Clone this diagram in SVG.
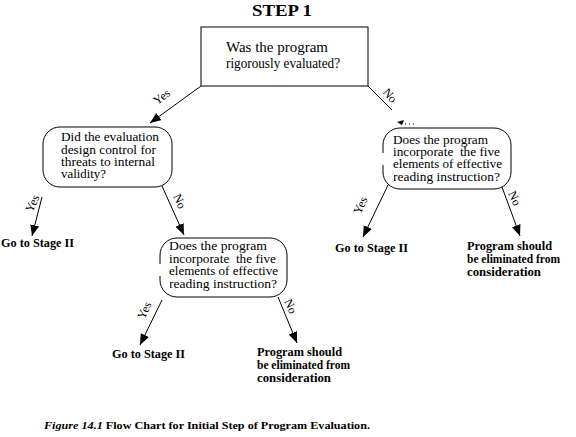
<svg xmlns="http://www.w3.org/2000/svg" width="576" height="437" viewBox="0 0 576 437">
<style>
.box{fill:#fff;stroke:#000;stroke-width:1}
.q{font-family:"Liberation Serif","Times New Roman",serif;font-size:13.5px;fill:#000}
.lbl{font-family:"Liberation Serif","Times New Roman",serif;font-size:12px;fill:#000}
.out{font-family:"Liberation Serif","Times New Roman",serif;font-size:12px;font-weight:bold;fill:#000}
.con{stroke:#000;stroke-width:1;fill:none}
</style>
<defs>
<marker id="ah" markerUnits="userSpaceOnUse" markerWidth="12" markerHeight="10" refX="11" refY="4.5" orient="auto">
<path d="M0,0 L11,4.5 L0,9 z" fill="#000"/>
</marker>
</defs>
<rect width="576" height="437" fill="#fff"/>
<text x="282" y="16" text-anchor="middle" font-family="'Liberation Serif','Times New Roman',serif" font-size="17" font-weight="bold" textLength="60" lengthAdjust="spacingAndGlyphs">STEP 1</text>

<g id="connectors">
<line class="con" x1="201" y1="86" x2="150" y2="123" marker-end="url(#ah)"/>
<line class="con" x1="368" y1="86" x2="392" y2="110"/>
<path d="M397,122 L404,120 L402,125 z" fill="#000"/>
<line x1="405" y1="124" x2="417" y2="124" stroke="#000" stroke-width="1" stroke-dasharray="1,3"/>
<line class="con" x1="42" y1="197" x2="32" y2="236" marker-end="url(#ah)"/>
<line class="con" x1="162" y1="186" x2="184" y2="235" marker-end="url(#ah)"/>
<line class="con" x1="162" y1="300" x2="140" y2="345" marker-end="url(#ah)"/>
<line class="con" x1="278" y1="297" x2="297" y2="343" marker-end="url(#ah)"/>
<line class="con" x1="388" y1="185" x2="363" y2="237" marker-end="url(#ah)"/>
<line class="con" x1="502" y1="187" x2="520" y2="236" marker-end="url(#ah)"/>
<text class="lbl" transform="translate(164,100) rotate(-36)" text-anchor="middle">Yes</text>
<text class="lbl" transform="translate(387,98) rotate(50)" text-anchor="middle">No</text>
<text class="lbl" transform="translate(36,205) rotate(-65)" text-anchor="middle">Yes</text>
<text class="lbl" transform="translate(176,203) rotate(65)" text-anchor="middle">No</text>
<text class="lbl" transform="translate(148,312) rotate(-65)" text-anchor="middle">Yes</text>
<text class="lbl" transform="translate(287,308) rotate(65)" text-anchor="middle">No</text>
<text class="lbl" transform="translate(364,207) rotate(-65)" text-anchor="middle">Yes</text>
<text class="lbl" transform="translate(511,200) rotate(65)" text-anchor="middle">No</text>
</g>

<g id="n1">
<rect class="box" x="201" y="27" width="167" height="59"/>
<text class="q" style="font-size:14.5px" x="226" y="52" textLength="102" lengthAdjust="spacingAndGlyphs">Was the program</text>
<text class="q" style="font-size:14.5px" x="226" y="68" textLength="114" lengthAdjust="spacingAndGlyphs">rigorously evaluated?</text>
</g>

<g id="n2">
<rect class="box" x="43" y="127" width="129" height="60" rx="17"/>
<text class="q" x="61" y="141" textLength="98" lengthAdjust="spacingAndGlyphs">Did the evaluation</text>
<text class="q" x="61" y="154" textLength="95" lengthAdjust="spacingAndGlyphs">design control for</text>
<text class="q" x="61" y="166" textLength="94" lengthAdjust="spacingAndGlyphs">threats to internal</text>
<text class="q" x="61" y="178" textLength="45" lengthAdjust="spacingAndGlyphs">validity?</text>
</g>

<g id="n3">
<rect class="box" x="383" y="128" width="128" height="61" rx="17"/>
<rect x="381" y="153" width="10" height="12" fill="#fff"/>
<text class="q" x="393" y="144" textLength="95" lengthAdjust="spacingAndGlyphs">Does the program</text>
<text class="q" x="393" y="156" xml:space="preserve" textLength="107" lengthAdjust="spacingAndGlyphs">incorporate  the five</text>
<text class="q" x="393" y="168" textLength="109" lengthAdjust="spacingAndGlyphs">elements of effective</text>
<text class="q" x="393" y="181" textLength="107" lengthAdjust="spacingAndGlyphs">reading instruction?</text>
<rect x="390" y="171" width="4" height="12" fill="#fff"/>
</g>

<g id="n4">
<rect class="box" x="160" y="238" width="127" height="59" rx="17"/>
<rect x="158" y="264" width="10" height="12" fill="#fff"/>
<text class="q" x="169" y="250" textLength="98" lengthAdjust="spacingAndGlyphs">Does the program</text>
<text class="q" x="169" y="263" xml:space="preserve" textLength="107" lengthAdjust="spacingAndGlyphs">incorporate  the five</text>
<text class="q" x="169" y="275" textLength="109" lengthAdjust="spacingAndGlyphs">elements of effective</text>
<text class="q" x="169" y="288" textLength="108" lengthAdjust="spacingAndGlyphs">reading instruction?</text>
<rect x="166" y="278" width="4" height="12" fill="#fff"/>
</g>

<g id="o1"><text class="out" x="1" y="247" textLength="73" lengthAdjust="spacingAndGlyphs">Go to Stage II</text></g>
<g id="o2"><text class="out" x="112" y="358" textLength="73" lengthAdjust="spacingAndGlyphs">Go to Stage II</text></g>
<g id="o3">
<text class="out" x="257" y="356" textLength="85" lengthAdjust="spacingAndGlyphs">Program should</text>
<text class="out" x="257" y="369" textLength="93" lengthAdjust="spacingAndGlyphs">be eliminated from</text>
<text class="out" x="257" y="382" textLength="74" lengthAdjust="spacingAndGlyphs">consideration</text>
</g>
<g id="o4"><text class="out" x="335" y="252" textLength="73" lengthAdjust="spacingAndGlyphs">Go to Stage II</text></g>
<g id="o5">
<text class="out" x="467" y="250" textLength="85" lengthAdjust="spacingAndGlyphs">Program should</text>
<text class="out" x="467" y="263" textLength="93" lengthAdjust="spacingAndGlyphs">be eliminated from</text>
<text class="out" x="467" y="276" textLength="74" lengthAdjust="spacingAndGlyphs">consideration</text>
</g>

<text x="44" y="429" font-family="'Liberation Serif','Times New Roman',serif" font-size="11" font-weight="bold" textLength="326" lengthAdjust="spacingAndGlyphs"><tspan font-style="italic">Figure 14.1 </tspan>Flow Chart for Initial Step of Program Evaluation.</text>
</svg>
